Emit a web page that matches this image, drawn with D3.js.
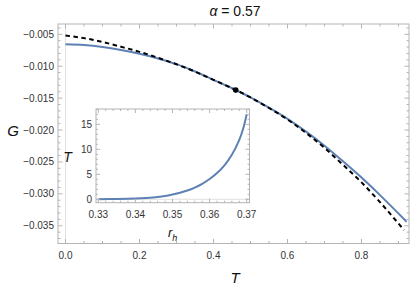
<!DOCTYPE html>
<html><head><meta charset="utf-8">
<script src="https://cdn.jsdelivr.net/npm/d3@7"></script>
<style>html,body{margin:0;padding:0;background:#fff;}svg{display:block;font-family:"Liberation Sans",Arial,sans-serif;}</style>
</head><body>
<svg id="c" width="414" height="287"></svg>
<script>
// ---- data ----
const mainT = [0,0.05,0.1,0.15,0.2,0.25,0.3,0.35,0.4,0.45,0.5,0.55,0.6,0.65,0.7,0.75,0.8,0.85];
const blueG = [-0.00657,-0.00668,-0.00698,-0.00745,-0.00805,-0.00878,-0.00968,-0.01083,-0.01213,-0.01345,-0.01488,-0.01650,-0.01825,-0.02025,-0.02245,-0.02490,-0.02745,-0.03020];
const blueEnd = [0.922,-0.03437];
const dashG = [-0.00520,-0.00560,-0.00620,-0.00695,-0.00775,-0.00868,-0.00970,-0.01085,-0.01215,-0.01345,-0.01490,-0.01655,-0.01835,-0.02045,-0.02280,-0.02545,-0.02820,-0.03130];
const dashEnd = [0.915,-0.03570];
const markPt = [0.46,-0.01374];
const xTicks = [0,0.2,0.4,0.6,0.8];
const yTicks = [-0.005,-0.010,-0.015,-0.020,-0.025,-0.030,-0.035];
const insetR = [0.330,0.335,0.340,0.343,0.346,0.348,0.350,0.352,0.354,0.356,0.358,0.360,0.362,0.364,0.366,0.368,0.369,0.370];
const insetT = [0.03,0.08,0.17,0.28,0.45,0.65,0.95,1.30,1.75,2.35,3.10,4.05,5.25,6.80,8.90,11.9,14.0,17.0];
const insetXTicks = [0.33,0.34,0.35,0.36,0.37];
const insetYTicks = [0,5,10,15];

const svg = d3.select("#c");
const frameCol = "#b4b4b4", textCol = "#333", blue = "#5E81B5";

// ---- main plot ----
const M = {l:58, r:409, t:24, b:243.5};
const x = d3.scaleLinear().domain([-0.0203,0.9284]).range([M.l,M.r]);
const y = d3.scaleLinear().domain([-0.03778,-0.003386]).range([M.b,M.t]);

function frameTicks(g, sx, sy, box, major, minorStep, majLen, minLen, axis) {
  const [d0,d1] = (axis==="x"? sx:sy).domain();
  const minors = d3.range(Math.ceil(d0/minorStep-1e-6), Math.floor(d1/minorStep+1e-6)+1).map(k=>k*minorStep);
  const isMaj = v => major.some(m=>Math.abs(m-v)<minorStep*0.01);
  minors.forEach(v=>{
    const L = isMaj(v)?majLen:minLen;
    if (axis==="x") {
      const p = sx(v);
      g.append("line").attr("x1",p).attr("x2",p).attr("y1",box.b).attr("y2",box.b-L);
      g.append("line").attr("x1",p).attr("x2",p).attr("y1",box.t).attr("y2",box.t+L);
    } else {
      const p = sy(v);
      g.append("line").attr("y1",p).attr("y2",p).attr("x1",box.l).attr("x2",box.l+L);
      g.append("line").attr("y1",p).attr("y2",p).attr("x1",box.r).attr("x2",box.r-L);
    }
  });
}

// faint zero line
svg.append("line").attr("x1",x(0)).attr("x2",x(0)).attr("y1",M.t).attr("y2",M.b)
  .attr("stroke","#e2e2e2").attr("stroke-width",1);

const line = d3.line().x(d=>x(d[0])).y(d=>y(d[1])).curve(d3.curveMonotoneX);
const blueData = mainT.map((t,i)=>[t,blueG[i]]).concat([blueEnd]);
const dashData = mainT.map((t,i)=>[t,dashG[i]]).concat([dashEnd]);
svg.append("path").attr("d",line(blueData)).attr("fill","none").attr("stroke",blue).attr("stroke-width",2);
svg.append("path").attr("d",line(dashData)).attr("fill","none").attr("stroke","#000").attr("stroke-width",2)
  .attr("stroke-dasharray","4.5,3.5");
svg.append("circle").attr("cx",x(markPt[0])).attr("cy",y(markPt[1])).attr("r",2.8).attr("fill","#000");

const tg = svg.append("g").attr("stroke",frameCol).attr("stroke-width",1);
frameTicks(tg,x,y,M,xTicks,0.05,4.5,2.5,"x");
frameTicks(tg,x,y,M,yTicks,0.001,4.5,2.5,"y");
svg.append("rect").attr("x",M.l).attr("y",M.t).attr("width",M.r-M.l).attr("height",M.b-M.t)
  .attr("fill","none").attr("stroke",frameCol).attr("stroke-width",1);

const fmtX = d3.format(".1f");
svg.append("g").selectAll("text").data(xTicks).join("text")
  .attr("x",d=>x(d)).attr("y",258.5).attr("text-anchor","middle").attr("font-size",10).attr("fill",textCol)
  .text(d=>fmtX(d));
svg.append("g").selectAll("text").data(yTicks).join("text")
  .attr("x",54).attr("y",d=>y(d)+3.5).attr("text-anchor","end").attr("font-size",10).attr("fill",textCol)
  .text(d=>"\u2212"+d3.format(".3f")(-d));

// labels
svg.append("text").attr("x",235).attr("y",15.5).attr("text-anchor","middle").attr("font-size",14).attr("fill","#111")
  .html('<tspan font-style="italic">\u03b1</tspan> = 0.57');
svg.append("text").attr("x",13).attr("y",136).attr("text-anchor","middle").attr("font-size",15).attr("font-style","italic").attr("fill","#111").text("G");
svg.append("text").attr("x",235).attr("y",283).attr("text-anchor","middle").attr("font-size",15).attr("font-style","italic").attr("fill","#111").text("T");

// ---- inset ----
const I = {l:96, r:249.5, t:109, b:202.7};
const ix = d3.scaleLinear().domain([0.32938,0.37075]).range([I.l,I.r]);
const iy = d3.scaleLinear().domain([-0.68,18.06]).range([I.b,I.t]);
svg.append("rect").attr("x",I.l).attr("y",I.t).attr("width",I.r-I.l).attr("height",I.b-I.t).attr("fill","#fff");
svg.append("line").attr("x1",I.l).attr("x2",I.r).attr("y1",iy(0)).attr("y2",iy(0)).attr("stroke","#e2e2e2");
const iline = d3.line().x(d=>ix(d[0])).y(d=>iy(d[1])).curve(d3.curveCatmullRom);
svg.append("path").attr("d",iline(insetR.map((r,i)=>[r,insetT[i]]))).attr("fill","none").attr("stroke",blue).attr("stroke-width",2);
const itg = svg.append("g").attr("stroke",frameCol).attr("stroke-width",1);
frameTicks(itg,ix,iy,I,insetXTicks,0.002,4,2,"x");
frameTicks(itg,ix,iy,I,insetYTicks,1,4,2,"y");
svg.append("rect").attr("x",I.l).attr("y",I.t).attr("width",I.r-I.l).attr("height",I.b-I.t)
  .attr("fill","none").attr("stroke",frameCol).attr("stroke-width",1);
svg.append("g").selectAll("text").data(insetXTicks).join("text")
  .attr("x",d=>ix(d)).attr("y",218).attr("text-anchor","middle").attr("font-size",10).attr("fill",textCol)
  .text(d=>d3.format(".2f")(d));
svg.append("g").selectAll("text").data(insetYTicks).join("text")
  .attr("x",92).attr("y",d=>iy(d)+3.5).attr("text-anchor","end").attr("font-size",10).attr("fill",textCol)
  .text(d=>d);
svg.append("text").attr("x",67.5).attr("y",162).attr("text-anchor","middle").attr("font-size",14).attr("font-style","italic").attr("fill","#111").text("T");
svg.append("text").attr("x",168).attr("y",237).attr("font-size",13).attr("font-style","italic").attr("fill","#111")
  .html('r<tspan font-size="9" dy="3.5">h</tspan>');
</script>
</body></html>
